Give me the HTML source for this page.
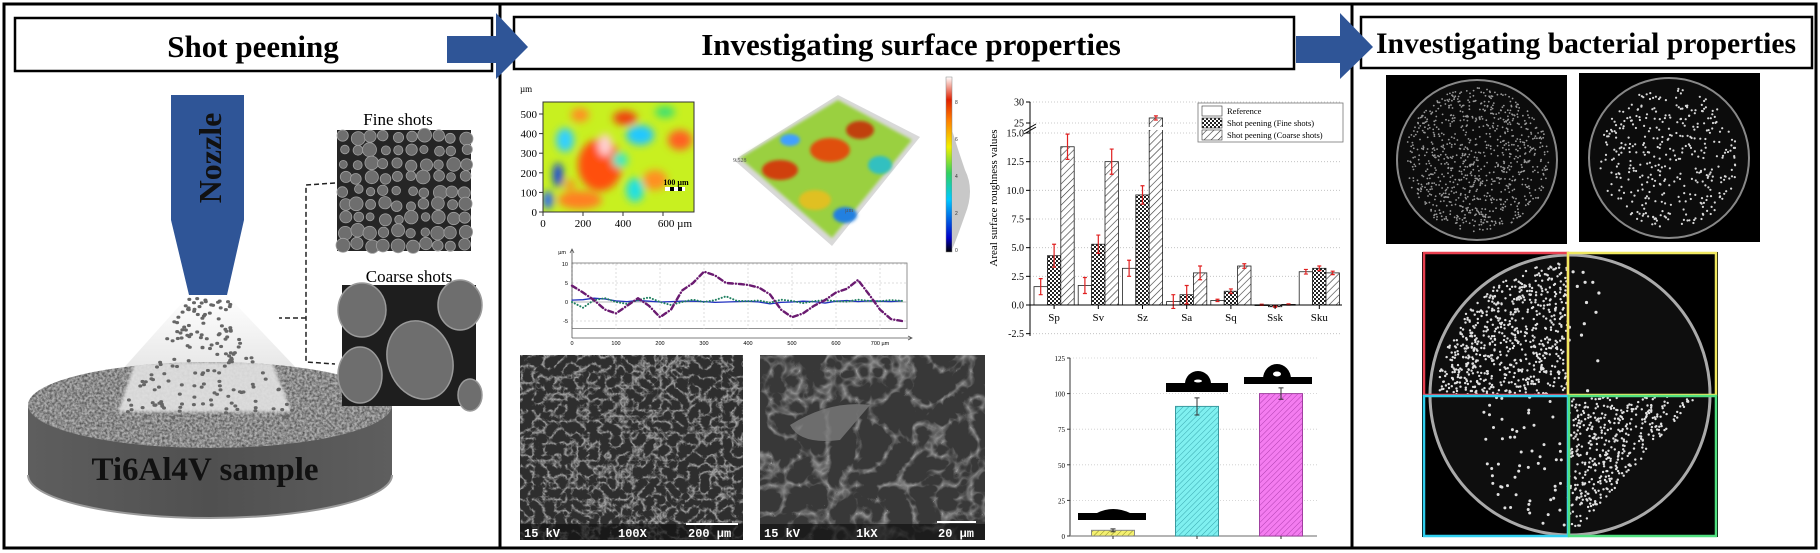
<!DOCTYPE html>
<html><head><meta charset="utf-8"><title>Shot peening graphical abstract</title>
<style>
html,body{margin:0;padding:0;background:#fff;}
svg{display:block;}
.serif{font-family:"Liberation Serif",serif;}
.sans{font-family:"Liberation Sans",sans-serif;}
.mono{font-family:"Liberation Mono",monospace;}
</style></head>
<body>
<svg id="root" width="1820" height="553" viewBox="0 0 1820 553" xmlns="http://www.w3.org/2000/svg">
<defs>
  <filter id="speckle" x="0" y="0" width="100%" height="100%">
    <feTurbulence type="fractalNoise" baseFrequency="0.4" numOctaves="2" seed="3"/>
    <feColorMatrix type="matrix" values="0 0 0 0 0  0 0 0 0 0  0 0 0 0 0  0 0 0 -1.6 1.15"/>
  </filter>
  <filter id="semTex" x="0" y="0" width="100%" height="100%">
    <feTurbulence type="turbulence" baseFrequency="0.09" numOctaves="3" seed="7"/>
    <feColorMatrix type="matrix" values="0 0 0 0 1  0 0 0 0 1  0 0 0 0 1  -3 0 0 0 0.9"/>
  </filter>
  <filter id="semTex2" x="0" y="0" width="100%" height="100%">
    <feTurbulence type="turbulence" baseFrequency="0.035" numOctaves="3" seed="11"/>
    <feColorMatrix type="matrix" values="0 0 0 0 1  0 0 0 0 1  0 0 0 0 1  -3 0 0 0 0.8"/>
  </filter>
  <filter id="blur4"><feGaussianBlur stdDeviation="4"/></filter>
  <filter id="blur2"><feGaussianBlur stdDeviation="1.5"/></filter>
  <linearGradient id="sprayGrad" x1="0" y1="0" x2="0" y2="1">
    <stop offset="0" stop-color="#fff"/><stop offset="1" stop-color="#e6e6e6"/>
  </linearGradient>
  <linearGradient id="sideGrad" x1="0" y1="0" x2="1" y2="0">
    <stop offset="0" stop-color="#5e5e5e"/><stop offset="0.5" stop-color="#505050"/><stop offset="1" stop-color="#5e5e5e"/>
  </linearGradient>
  <linearGradient id="cbar" x1="0" y1="1" x2="0" y2="0">
    <stop offset="0" stop-color="#000"/><stop offset="0.08" stop-color="#0000c8"/><stop offset="0.3" stop-color="#00c8ff"/>
    <stop offset="0.45" stop-color="#30d060"/><stop offset="0.6" stop-color="#f0f000"/><stop offset="0.75" stop-color="#ff8000"/>
    <stop offset="0.87" stop-color="#e02000"/><stop offset="1" stop-color="#fff"/>
  </linearGradient>
  <pattern id="crossHatch" width="4" height="4" patternUnits="userSpaceOnUse">
    <rect width="4" height="4" fill="#fff"/><rect width="2" height="2" fill="#222"/><rect x="2" y="2" width="2" height="2" fill="#222"/>
  </pattern>
  <pattern id="diagHatch" width="5" height="5" patternUnits="userSpaceOnUse" patternTransform="rotate(45)">
    <rect width="5" height="5" fill="#fff"/><line x1="0" y1="0" x2="0" y2="5" stroke="#333" stroke-width="1.2"/>
  </pattern>
  <pattern id="yHatch" width="4" height="4" patternUnits="userSpaceOnUse" patternTransform="rotate(45)">
    <rect width="4" height="4" fill="#f4f070"/><line x1="0" y1="0" x2="0" y2="4" stroke="#8a8a20" stroke-width="1"/>
  </pattern>
  <pattern id="cHatch" width="4" height="4" patternUnits="userSpaceOnUse" patternTransform="rotate(45)">
    <rect width="4" height="4" fill="#7ff0f0"/><line x1="0" y1="0" x2="0" y2="4" stroke="#3aa8b0" stroke-width="1"/>
  </pattern>
  <pattern id="mHatch" width="4" height="4" patternUnits="userSpaceOnUse" patternTransform="rotate(45)">
    <rect width="4" height="4" fill="#f47cf0"/><line x1="0" y1="0" x2="0" y2="4" stroke="#b040b0" stroke-width="1"/>
  </pattern>
  <clipPath id="clipContour"><rect x="543" y="102" width="151" height="110"/></clipPath>
  <clipPath id="clipTop"><ellipse cx="210" cy="405" rx="182" ry="43"/></clipPath>
</defs>

<rect x="4" y="4" width="1812" height="544" fill="none" stroke="#000" stroke-width="3"/>
<line x1="500" y1="4" x2="500" y2="548" stroke="#000" stroke-width="3"/>
<line x1="1352" y1="4" x2="1352" y2="548" stroke="#000" stroke-width="3"/>

<g>
  <rect x="15" y="18" width="477" height="53" fill="#fff" stroke="#000" stroke-width="2.5"/>
  <text x="253" y="57" text-anchor="middle" class="serif" font-weight="bold" font-size="31">Shot peening</text>
</g>
<g>
  <rect x="514" y="17" width="780" height="52" fill="#fff" stroke="#000" stroke-width="2.5"/>
  <text x="911" y="55" text-anchor="middle" class="serif" font-weight="bold" font-size="31">Investigating surface properties</text>
</g>
<g>
  <rect x="1361" y="17" width="451" height="51" fill="#fff" stroke="#000" stroke-width="2.5"/>
  <text x="1586" y="53" text-anchor="middle" class="serif" font-weight="bold" font-size="30" textLength="420" lengthAdjust="spacingAndGlyphs">Investigating bacterial properties</text>
</g>
<polygon points="447,36 496,36 496,13 528,47 496,79 496,63 447,63" fill="#2f5597"/>
<polygon points="1296,36 1340,36 1340,13 1373,47 1340,79 1340,63 1296,63" fill="#2f5597"/>

<g>
  <polygon points="189,295 227,295 300,372 120,372" fill="url(#sprayGrad)"/>
  <path d="M28,405 L28,475 A182,43 0 0 0 392,475 L392,405 Z" fill="url(#sideGrad)"/>
  <path d="M28,475 A182,43 0 0 0 392,475" fill="none" stroke="#9a9a9a" stroke-width="2"/>
  <g clip-path="url(#clipTop)">
    <rect x="28" y="362" width="364" height="86" fill="#b0b0b0"/>
    <rect x="28" y="362" width="364" height="86" filter="url(#speckle)" opacity="0.6"/>
    <polygon points="135,362 272,362 292,412 118,412" fill="#e2e2e2" opacity="0.9" filter="url(#blur2)"/>
  </g>
  <text x="205" y="480" text-anchor="middle" class="serif" font-weight="bold" font-size="33" fill="#111">Ti6Al4V sample</text>
  <g id="sprayDots"></g>
  <polygon points="171,95 244,95 244,220 227,295 189,295 171,220" fill="#2f5597"/>
  <text transform="translate(221,158) rotate(-90)" text-anchor="middle" class="serif" font-weight="bold" font-size="32" fill="#111">Nozzle</text>
  <path d="M335,183 L306,185 L306,362 L335,364 M306,318 L279,318" fill="none" stroke="#222" stroke-width="1.5" stroke-dasharray="5,3"/>
  <text x="398" y="125" text-anchor="middle" class="serif" font-size="17">Fine shots</text>
  <text x="409" y="282" text-anchor="middle" class="serif" font-size="17">Coarse shots</text>
  <g>
    <rect x="337" y="130" width="134" height="121" fill="#252525"/>
    <g id="fineShots"></g>
  </g>
  <g>
    <rect x="342" y="285" width="134" height="121" fill="#1e1e1e"/>
    <g fill="#6e6e6e" stroke="#9a9a9a" stroke-width="1.5">
      <ellipse cx="362" cy="310" rx="24" ry="27"/>
      <ellipse cx="460" cy="305" rx="22" ry="25"/>
      <ellipse cx="360" cy="375" rx="22" ry="28"/>
      <ellipse cx="420" cy="360" rx="32" ry="40" transform="rotate(-20 420 360)"/>
      <ellipse cx="470" cy="395" rx="12" ry="16"/>
    </g>
  </g>
</g>

<g>
  <g clip-path="url(#clipContour)">
    <rect x="543" y="102" width="151" height="110" fill="#c8f020"/>
    <g filter="url(#blur4)">
      <ellipse cx="600" cy="165" rx="22" ry="26" fill="#ff5010"/>
      <ellipse cx="605" cy="145" rx="7" ry="11" fill="#ffd0d0"/>
      <ellipse cx="580" cy="200" rx="22" ry="9" fill="#ff8020"/>
      <ellipse cx="680" cy="140" rx="12" ry="10" fill="#ff6020"/>
      <ellipse cx="655" cy="180" rx="12" ry="10" fill="#ff9020"/>
      <ellipse cx="565" cy="140" rx="9" ry="12" fill="#30d0ff"/>
      <ellipse cx="558" cy="175" rx="5" ry="12" fill="#1040e0"/>
      <ellipse cx="640" cy="135" rx="14" ry="10" fill="#20c8ff"/>
      <ellipse cx="635" cy="190" rx="9" ry="12" fill="#20e0e0"/>
      <ellipse cx="625" cy="118" rx="12" ry="7" fill="#f04010"/>
      <ellipse cx="580" cy="115" rx="9" ry="7" fill="#ff9020"/>
      <ellipse cx="665" cy="112" rx="10" ry="6" fill="#40e070"/>
      <ellipse cx="548" cy="200" rx="5" ry="9" fill="#2060ff"/>
      <ellipse cx="620" cy="160" rx="8" ry="8" fill="#40e8c0"/>
      <ellipse cx="570" cy="185" rx="6" ry="6" fill="#f0a020"/>
    </g>
    <rect x="665" y="187" width="20" height="4" fill="#fff"/><rect x="670" y="187" width="4" height="4" fill="#000"/><rect x="678" y="187" width="4" height="4" fill="#000"/>
    <text x="676" y="185" text-anchor="middle" class="serif" font-weight="bold" font-size="8">100 µm</text>
  </g>
  <rect x="543" y="102" width="151" height="110" fill="none" stroke="#333" stroke-width="1"/>
  <g id="contourAxes" class="serif" font-size="10"></g>
</g>
<g>
  <polygon points="734,160 838,95 920,137 832,246" fill="#d9d9d9"/>
  <polygon points="740,158 838,100 912,140 832,238" fill="#9ad040" filter="url(#blur2)"/>
  <g filter="url(#blur2)">
    <ellipse cx="780" cy="170" rx="18" ry="10" fill="#d04010"/>
    <ellipse cx="830" cy="150" rx="20" ry="12" fill="#e05010"/>
    <ellipse cx="860" cy="130" rx="14" ry="9" fill="#c04010"/>
    <ellipse cx="815" cy="200" rx="16" ry="10" fill="#e0c020"/>
    <ellipse cx="845" cy="215" rx="12" ry="8" fill="#2080e0"/>
    <ellipse cx="880" cy="165" rx="12" ry="9" fill="#30c0c0"/>
    <ellipse cx="790" cy="140" rx="10" ry="6" fill="#40a0ff"/>
  </g>
  <text x="733" y="162" class="serif" font-size="6" fill="#555">9.528</text>
  <text x="845" y="212" class="serif" font-size="6" fill="#555">µm</text>
  <rect x="946" y="77" width="6" height="175" fill="url(#cbar)" stroke="#888" stroke-width="0.5"/>
  <path d="M952,130 Q958,150 965,170 Q975,190 965,215 Q958,235 952,250 Z" fill="#c8c8c8"/>
  <g class="sans" font-size="5" fill="#333">
    <text x="955" y="252">0</text><text x="955" y="215">2</text><text x="955" y="178">4</text><text x="955" y="141">6</text><text x="955" y="104">8</text>
  </g>
</g>
<g>
  <g id="profileAxes"></g>
  <g id="profileLines"></g>
</g>
<g>
  <rect x="520" y="355" width="223" height="185" fill="#2e2e2e"/>
  <rect x="520" y="355" width="223" height="185" filter="url(#semTex)" opacity="0.7"/>
  <rect x="520" y="524" width="223" height="16" fill="#111" opacity="0.7"/>
  <text x="524" y="537" class="mono" font-weight="bold" font-size="12" fill="#fff">15 kV</text>
  <text x="618" y="537" class="mono" font-weight="bold" font-size="12" fill="#fff">100X</text>
  <line x1="686" y1="524" x2="738" y2="524" stroke="#fff" stroke-width="2"/>
  <text x="688" y="537" class="mono" font-weight="bold" font-size="12" fill="#fff">200 µm</text>
</g>
<g>
  <rect x="760" y="355" width="225" height="185" fill="#383838"/>
  <rect x="760" y="355" width="225" height="185" filter="url(#semTex2)" opacity="0.6"/>
  <path d="M790,425 Q830,400 870,405 L840,440 Q800,445 790,425 Z" fill="#7a7a7a" opacity="0.8"/>
  <rect x="760" y="524" width="225" height="16" fill="#111" opacity="0.7"/>
  <text x="764" y="537" class="mono" font-weight="bold" font-size="12" fill="#fff">15 kV</text>
  <text x="856" y="537" class="mono" font-weight="bold" font-size="12" fill="#fff">1kX</text>
  <line x1="937" y1="522" x2="976" y2="522" stroke="#fff" stroke-width="2"/>
  <text x="938" y="537" class="mono" font-weight="bold" font-size="12" fill="#fff">20 µm</text>
</g>

<g>
  <g id="roughChart"></g>
</g>
<g>
  <g id="caChart"></g>
</g>

<g>
  <rect x="1386" y="75" width="181" height="169" fill="#000"/>
  <circle cx="1477" cy="160" r="80" fill="#0c0c0c" stroke="#888" stroke-width="2"/>
  <g id="dish1"></g>
</g>
<g>
  <rect x="1579" y="73" width="181" height="169" fill="#000"/>
  <circle cx="1669" cy="158" r="80" fill="#0c0c0c" stroke="#888" stroke-width="2"/>
  <g id="dish2"></g>
</g>
<g>
  <rect x="1422" y="252" width="296" height="285" fill="#000"/>
  <circle cx="1570" cy="395" r="140" fill="#0e0e0e" stroke="#aaa" stroke-width="3"/>
  <g id="dish3"></g>
  <rect x="1424" y="253" width="144" height="142" fill="none" stroke="#e84050" stroke-width="2.5"/>
  <rect x="1568" y="253" width="148" height="142" fill="none" stroke="#f0e860" stroke-width="2.5"/>
  <rect x="1424" y="396" width="144" height="140" fill="none" stroke="#30d0f0" stroke-width="2.5"/>
  <rect x="1569" y="396" width="147" height="140" fill="none" stroke="#50e080" stroke-width="2.5"/>
</g>
</svg>

<script>
const roughCats = ['Sp','Sv','Sz','Sa','Sq','Ssk','Sku'];
const refVals = [1.6,1.7,3.2,0.3,0.4,0.02,2.9];
const refErr = [0.7,0.7,0.7,0.6,0.1,0.05,0.2];
const fineVals = [4.3,5.3,9.6,0.9,1.2,-0.15,3.2];
const fineErr = [1.0,0.8,0.8,0.8,0.2,0.05,0.2];
const coarseVals = [13.8,12.5,26.2,2.8,3.4,0.05,2.8];
const coarseErr = [1.1,1.1,0.5,0.6,0.2,0.05,0.15];
const roughTicksLow = [-2.5,0,2.5,5,7.5,10,12.5,15];
const roughTicksHigh = [25,30];
const legendLabels = ['Reference','Shot peening (Fine shots)','Shot peening (Coarse shots)'];

const caCats = ['Reference','Fine shots','Coarse shots'];
const caVals = [4,91,100];
const caErr = [1,6,4];
const caTicks = [0,25,50,75,100,125];

const profX = [0,25,50,75,100,125,150,175,200,225,250,275,300,325,350,375,400,425,450,475,500,525,550,575,600,625,650,675,700,725,750];
const profPurple = [4.3,2.5,0.5,-2,-3,-1,1,-1,-4,-2,3,5,8,7,5,4.8,4.5,3.8,2,-2,-4,-3,-1,0.5,2.5,3.5,5.8,2,-2,-4.5,-5];
const profGreen = [0,-1.5,0.5,1,0,-0.5,0.5,1.2,0,-0.8,0,0.6,0,0.5,1.5,0.3,0.2,0.4,-0.2,0.6,0.3,-0.3,0.2,0.5,0.2,0.1,0.6,0.3,0.2,0.5,0.3];
const profBlue = [0.5,0.6,1.0,0.8,0.3,0.1,0.4,0.2,0,0.1,0.2,0.2,0.1,-0.1,0,0.1,0.2,0,-0.5,-0.1,0,0.2,0.1,-0.3,0.2,0.4,0.1,0.3,0.2,0.1,0.3];
const profTicksX = [0,100,200,300,400,500,600,700];
const profTicksY = [-5,0,5,10];

const contourTicksX = [0,200,400,600];
const contourTicksY = [0,100,200,300,400,500];

const NS = 'http://www.w3.org/2000/svg';
function mk(tag, attrs, parent){
  const e = document.createElementNS(NS, tag);
  for (const k in attrs) e.setAttribute(k, attrs[k]);
  if (parent) parent.appendChild(e);
  return e;
}
function txt(parent, x, y, s, size, anchor, cls, extra){
  const t = mk('text', Object.assign({x:x, y:y, 'font-size':size, 'text-anchor':anchor||'middle', class:cls||'serif'}, extra||{}), parent);
  t.textContent = s;
  return t;
}
let seed = 12345;
function rnd(){ seed = (seed*16807) % 2147483647; return (seed-1)/2147483646; }

(function(){
  const g = document.getElementById('roughChart');
  const x0 = 1030, xEnd = 1342;
  function y(v){ return v <= 15 ? 305 - v*11.467 : (v < 25 ? 133 - (v-15)*1.0 : 123 - (v-25)*4.2); }
  function gx(i){ return 1034 + i*44.2; }
  for (const t of roughTicksLow.concat(roughTicksHigh)) {
    const gl = mk('line', {x1:x0, x2:xEnd, y1:y(t), y2:y(t), stroke:'#bbb', 'stroke-dasharray':'1,2', 'stroke-width':0.8}, g);
    
    
  }
  const series = [[refVals,refErr,'#fff'],[fineVals,fineErr,'url(#crossHatch)'],[coarseVals,coarseErr,'url(#diagHatch)']];
  series.forEach((s, si) => {
    roughCats.forEach((c, i) => {
      const v = s[0][i], bx = gx(i) + si*13.4;
      const top = Math.min(y(v), y(0)), h = Math.abs(y(v) - y(0));
      const r = mk('rect', {x:bx, y:top, width:13.4, height:Math.max(h,0.8), fill:s[2], stroke:'#222', 'stroke-width':0.8}, g);
      
      
      const cx = bx + 6.7, e = s[1][i];
      const el = mk('path', {d:`M${cx},${y(v+e)} V${y(v-e)} M${cx-2},${y(v+e)} H${cx+2} M${cx-2},${y(v-e)} H${cx+2}`, stroke:'#e02020', 'stroke-width':1.2, fill:'none'}, g);
      
      
    });
  });
  mk('rect', {x:x0-8, y:127, width:xEnd-x0+8, height:3, fill:'#fff'}, g);
  mk('path', {d:`M${x0-6},131 L${x0+6},124 M${x0-6},134 L${x0+6},127`, stroke:'#000', 'stroke-width':1, fill:'none'}, g);
  const ya = mk('line', {x1:x0, x2:x0, y1:102, y2:336, stroke:'#000', 'stroke-width':1}, g);
  
  
  const xa = mk('line', {x1:x0, x2:xEnd, y1:y(0), y2:y(0), stroke:'#000', 'stroke-width':1}, g);
  
  
  for (const t of roughTicksLow.concat(roughTicksHigh)) {
    mk('line', {x1:x0-4, x2:x0, y1:y(t), y2:y(t), stroke:'#000'}, g);
    const tl = txt(g, x0-6, y(t)+3.5, (t>=25 ? String(t) : t.toFixed(1)), 10, 'end');
    
    
  }
  roughCats.forEach((c, i) => {
    const cx = gx(i) + 20.1;
    mk('line', {x1:cx, x2:cx, y1:y(0), y2:y(0)+4, stroke:'#000'}, g);
    const tl = txt(g, cx, 321, c, 11);
    
    
  });
  const yt = txt(g, 0, 0, 'Areal surface roughness values', 11, 'middle', 'serif', {transform:'translate(997,198) rotate(-90)'});
  
  
  const lg = mk('g', {}, g);
  
  
  mk('rect', {x:1198, y:103, width:145, height:39, fill:'#fff', stroke:'#777', 'stroke-width':0.8}, lg);
  const fills = ['#fff','url(#crossHatch)','url(#diagHatch)'];
  legendLabels.forEach((l, i) => {
    mk('rect', {x:1202, y:106+i*12, width:20, height:10, fill:fills[i], stroke:'#333', 'stroke-width':0.6}, lg);
    const lt = txt(lg, 1227, 114+i*12, l, 8.5, 'start');
    
    
  });
})();

(function(){
  const g = document.getElementById('caChart');
  const x0 = 1070, xEnd = 1317;
  function y(v){ return 536 - v*1.424; }
  const centers = [1113, 1197, 1281];
  const fills = ['url(#yHatch)','url(#cHatch)','url(#mHatch)'];
  const strokes = ['#888','#3a9aa0','#a040a0'];
  for (const t of caTicks) {
    if (t > 0) mk('line', {x1:x0, x2:xEnd, y1:y(t), y2:y(t), stroke:'#ccc', 'stroke-dasharray':'1,2', 'stroke-width':0.8}, g);
    mk('line', {x1:x0-3, x2:x0, y1:y(t), y2:y(t), stroke:'#333'}, g);
    const tl = txt(g, x0-5, y(t)+3, String(t), 7, 'end');
    
    
  }
  mk('line', {x1:x0, x2:x0, y1:y(125), y2:y(0), stroke:'#333'}, g);
  mk('line', {x1:x0, x2:xEnd, y1:y(0), y2:y(0), stroke:'#888', 'stroke-width':1.2}, g);
  caCats.forEach((c, i) => {
    const b = mk('rect', {x:centers[i]-21.5, y:y(caVals[i]), width:43, height:y(0)-y(caVals[i]), fill:fills[i], stroke:strokes[i], 'stroke-width':1}, g);
    
    
    const cx = centers[i], e = caErr[i], v = caVals[i];
    mk('path', {d:`M${cx},${y(v+e)} V${y(v-e)} M${cx-2.5},${y(v+e)} H${cx+2.5} M${cx-2.5},${y(v-e)} H${cx+2.5}`, stroke:'#333', 'stroke-width':1, fill:'none'}, g);
    mk('line', {x1:cx, x2:cx, y1:y(0), y2:y(0)+3, stroke:'#333'}, g);
  });
  const d1 = mk('path', {d:'M1078,513 H1097 Q1113,505 1130,513 H1146 V520 H1078 Z', fill:'#000'}, g);
  
  
  const d2 = mk('g', {}, g);
  
  
  mk('rect', {x:1166, y:383, width:62, height:9, fill:'#000'}, d2);
  mk('path', {d:'M1185,384 A13,13 0 0 1 1211,384 Z', fill:'#000'}, d2);
  mk('ellipse', {cx:1198, cy:381, rx:4, ry:1.5, fill:'#fff'}, d2);
  const d3 = mk('g', {}, g);
  
  
  mk('rect', {x:1244, y:377, width:68, height:7, fill:'#000'}, d3);
  mk('path', {d:'M1263,379 A14,15 0 1 1 1291,379 Z', fill:'#000'}, d3);
  mk('ellipse', {cx:1277, cy:374, rx:4, ry:2.5, fill:'#fff'}, d3);
})();

(function(){
  const ga = document.getElementById('profileAxes');
  const gl = document.getElementById('profileLines');
  function x(v){ return 572 + v*0.44; }
  function y(v){ return 302 - v*3.8; }
  mk('rect', {x:572, y:y(10)-1, width:335, height:y(-7)-y(10)+1, fill:'#fff', stroke:'#777', 'stroke-width':0.8}, ga);
  for (const t of profTicksX) {
    mk('line', {x1:x(t), x2:x(t), y1:y(10), y2:y(-7), stroke:'#ddd', 'stroke-dasharray':'2,2'}, ga);
    const tl = txt(ga, x(t), 345, t===700 ? '700 µm' : String(t), 5.5, 'middle', 'sans');
    
    
  }
  for (const t of profTicksY) {
    mk('line', {x1:572, x2:907, y1:y(t), y2:y(t), stroke:t===0?'#bbb':'#ddd', 'stroke-dasharray':t===0?'':'2,2'}, ga);
    const tl = txt(ga, 568, y(t)+2, String(t), 5.5, 'end', 'sans');
    
    
  }
  txt(ga, 566, 254, 'µm', 5.5, 'end', 'sans');
  mk('path', {d:'M572,338 V249 M570,253 L572,249 L574,253 M572,338 H912 M908,336 L912,338 L908,340', stroke:'#555', fill:'none', 'stroke-width':0.8}, ga);
  function line(vals, color, dash, w, name){
    const d = vals.map((v,i) => (i?'L':'M') + x(profX[i]).toFixed(1) + ',' + y(v).toFixed(1)).join(' ');
    const p = mk('path', {d:d, stroke:color, fill:'none', 'stroke-width':w, 'stroke-dasharray':dash, 'stroke-linecap':'round', 'stroke-linejoin':'round'}, gl);
    
    
  }
  line(profBlue, '#2030c0', '', 1.3, 'profile-line-reference');
  line(profGreen, '#208060', '0.1,3', 2, 'profile-line-fine');
  line(profPurple, '#6a1a70', '5,3,0.1,3', 2.4, 'profile-line-coarse');
})();

(function(){
  const g = document.getElementById('contourAxes');
  function x(v){ return 543 + v*0.2; }
  function y(v){ return 212 - v*0.196; }
  for (const t of contourTicksX) {
    mk('line', {x1:x(t), x2:x(t), y1:212, y2:216, stroke:'#333'}, g);
    const tl = txt(g, x(t), 227, t===600 ? '600 µm' : String(t), 11, 'middle', 'serif', t===600?{x:x(t)+12}:{});
    
    
  }
  for (const t of contourTicksY) {
    mk('line', {x1:539, x2:543, y1:y(t), y2:y(t), stroke:'#333'}, g);
    const tl = txt(g, 537, y(t)+4, String(t), 11, 'end');
    
    
  }
  txt(g, 520, 92, 'µm', 9, 'start');
})();

(function(){
  const g = document.getElementById('sprayDots');
  for (let i = 0; i < 170; i++) {
    const t = rnd();
    const yy = 298 + t*120;
    const half = 20 + t*70;
    const xx = 208 + (rnd()*2-1)*half;
    mk('ellipse', {cx:xx.toFixed(1), cy:yy.toFixed(1), rx:2, ry:1.6, fill:'#666'}, g);
  }
  const fs = document.getElementById('fineShots');
  for (let r = 0; r < 9; r++) for (let c = 0; c < 10; c++) {
    const cx = 342 + c*13.5 + rnd()*4, cy = 135 + r*13.5 + rnd()*4, rr = 4 + rnd()*3;
    mk('circle', {cx:cx.toFixed(1), cy:cy.toFixed(1), r:rr.toFixed(1), fill:'#6e6e6e', stroke:'#a0a0a0', 'stroke-width':0.8}, fs);
  }
  function dish(id, cx, cy, R, n, size, color, filterFn){
    const g = document.getElementById(id);
    let k = 0;
    while (k < n) {
      const a = rnd()*Math.PI*2, rr = Math.sqrt(rnd())*R;
      const px = cx + Math.cos(a)*rr, py = cy + Math.sin(a)*rr;
      if (filterFn && !filterFn(px, py)) continue;
      mk('circle', {cx:px.toFixed(1), cy:py.toFixed(1), r:size, fill:color}, g);
      k++;
    }
  }
  dish('dish1', 1477, 160, 72, 900, 0.9, '#9a9a9a');
  dish('dish2', 1669, 158, 70, 380, 1.1, '#d8d8d8');
  dish('dish3', 1570, 395, 132, 700, 1.2, '#e0e0e0', (x,y)=> x<1568 && y<395);
  dish('dish3', 1570, 395, 132, 14, 1.6, '#e0e0e0', (x,y)=> x>1568 && y<395 && x<1600);
  dish('dish3', 1570, 395, 132, 60, 1.5, '#e0e0e0', (x,y)=> x<1568 && y>395 && x>1480);
  dish('dish3', 1570, 395, 132, 450, 1.2, '#e0e0e0', (x,y)=> x>1568 && y>395 && (x-1568) < (540-y)*0.9);
})();
</script>
</body></html>
